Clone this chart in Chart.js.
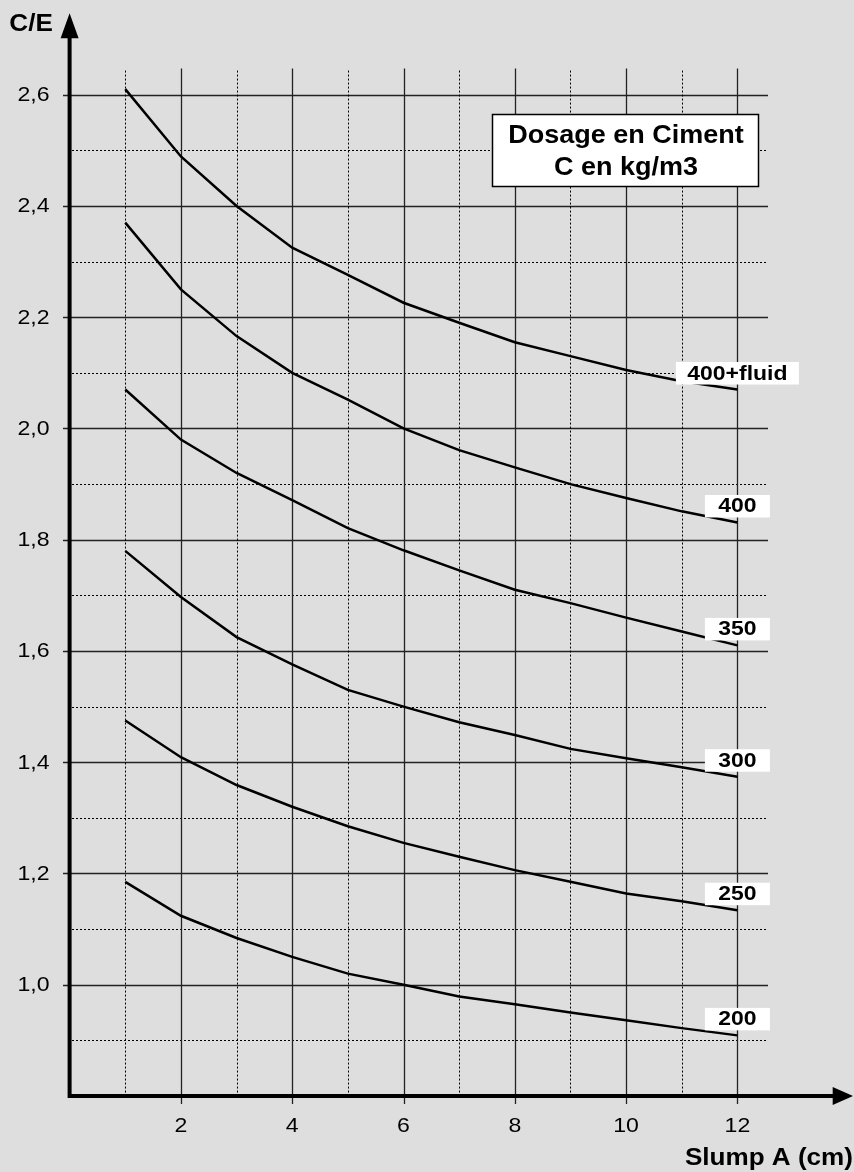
<!DOCTYPE html>
<html>
<head>
<meta charset="utf-8">
<script src="https://cdn.jsdelivr.net/npm/chart.js@4"></script>
<style>
  body { margin: 0; background: #dedede; }
  #wrap { width: 854px; height: 1172px; position: relative; }
</style>
</head>
<body>
<div id="wrap"><canvas id="myChart"></canvas></div>
<script>
const slump = [1, 2, 3, 4, 5, 6, 7, 8, 9, 10, 11, 12];
const ce200 = [1.185, 1.124, 1.084, 1.05, 1.02, 1.0, 0.979, 0.965, 0.95, 0.936, 0.922, 0.909];
const ce250 = [1.475, 1.409, 1.359, 1.32, 1.285, 1.255, 1.23, 1.206, 1.185, 1.164, 1.15, 1.134];
const ce300 = [1.78, 1.697, 1.625, 1.576, 1.53, 1.5, 1.472, 1.449, 1.424, 1.407, 1.391, 1.374];
const ce350 = [2.07, 1.98, 1.92, 1.871, 1.821, 1.781, 1.745, 1.71, 1.686, 1.66, 1.635, 1.61];
const ce400 = [2.37, 2.25, 2.166, 2.1, 2.052, 2.0, 1.961, 1.93, 1.9, 1.875, 1.851, 1.831];
const ce400fluid = [2.61, 2.489, 2.4, 2.325, 2.276, 2.226, 2.19, 2.155, 2.13, 2.105, 2.085, 2.07];
const seriesNames = ['200', '250', '300', '350', '400', '400+fluid'];

const xTicks = [2, 4, 6, 8, 10, 12];
const yTicks = [1.0, 1.2, 1.4, 1.6, 1.8, 2.0, 2.2, 2.4, 2.6];
const yTickLabels = ['1,0', '1,2', '1,4', '1,6', '1,8', '2,0', '2,2', '2,4', '2,6'];
const yMinor = [0.9, 1.1, 1.3, 1.5, 1.7, 1.9, 2.1, 2.3, 2.5];
const xMinor = [1, 3, 5, 7, 9, 11];

const FONT = '"Liberation Sans", Arial, sans-serif';

function stretchText(ctx, txt, x, y, align, sx) {
  ctx.save();
  ctx.translate(x, y);
  ctx.scale(sx, 1);
  ctx.textAlign = align;
  ctx.fillText(txt, 0, 0);
  ctx.restore();
}

const abaque = {
  id: 'abaque',
  beforeDraw(chart) {
    const ctx = chart.ctx;
    ctx.save();
    ctx.fillStyle = '#dedede';
    ctx.fillRect(0, 0, chart.width, chart.height);
    ctx.restore();
  },
  beforeDatasetsDraw(chart) {
    const ctx = chart.ctx, xs = chart.scales.x, ys = chart.scales.y;
    const xAxisY = ys.getPixelForValue(0.8);
    const gridRight = xs.getPixelForValue(12.55);
    ctx.save();
    // horizontal grid
    ctx.lineWidth = 1.3;
    ctx.strokeStyle = '#222';
    yTicks.forEach(v => {
      const y = Math.round(ys.getPixelForValue(v)) + 0.5;
      ctx.beginPath(); ctx.moveTo(63, y); ctx.lineTo(gridRight, y); ctx.stroke();
    });
    ctx.setLineDash([2, 2]);
    ctx.lineWidth = 1;
    ctx.strokeStyle = '#000';
    yMinor.forEach(v => {
      const y = Math.round(ys.getPixelForValue(v)) + 0.5;
      ctx.beginPath(); ctx.moveTo(72, y); ctx.lineTo(gridRight, y); ctx.stroke();
    });
    // vertical grid
    const top = ys.getPixelForValue(2.647);
    xMinor.forEach(v => {
      const x = Math.round(xs.getPixelForValue(v)) + 0.5;
      ctx.beginPath(); ctx.moveTo(x, top + 2); ctx.lineTo(x, xAxisY); ctx.stroke();
    });
    ctx.setLineDash([]);
    ctx.lineWidth = 1.3;
    ctx.strokeStyle = '#222';
    xTicks.forEach(v => {
      const x = Math.round(xs.getPixelForValue(v)) + 0.5;
      ctx.beginPath(); ctx.moveTo(x, top); ctx.lineTo(x, xAxisY + 8); ctx.stroke();
    });
    ctx.restore();
  },
  afterDatasetsDraw(chart) {
    const ctx = chart.ctx, xs = chart.scales.x, ys = chart.scales.y;
    const x0 = xs.getPixelForValue(0);
    const xAxisY = ys.getPixelForValue(0.8);
    ctx.save();
    // series labels in white boxes
    ctx.font = 'bold 20.5px ' + FONT;
    chart.data.datasets.forEach((ds, i) => {
      const last = ds.data[ds.data.length - 1];
      const cx = xs.getPixelForValue(last.x);
      const py = ys.getPixelForValue(last.y);
      const w = seriesNames[i].length > 4 ? 123 : 65;
      ctx.fillStyle = '#fff';
      ctx.fillRect(cx - w / 2, py - 27.5, w, 22.5);
      ctx.fillStyle = '#000';
      stretchText(ctx, seriesNames[i], cx, py - 10, 'center', 1.12);
    });

    // axes with arrows
    ctx.fillStyle = '#000';
    ctx.strokeStyle = '#000';
    ctx.lineWidth = 4;
    ctx.beginPath();
    ctx.moveTo(x0, 30); ctx.lineTo(x0, xAxisY); ctx.lineTo(834, xAxisY);
    ctx.stroke();
    ctx.beginPath();
    ctx.moveTo(x0, 13.3); ctx.lineTo(x0 + 9, 38.3); ctx.lineTo(x0 - 9, 38.3); ctx.closePath();
    ctx.fill();
    ctx.beginPath();
    ctx.moveTo(853, xAxisY); ctx.lineTo(832.7, xAxisY - 9); ctx.lineTo(832.7, xAxisY + 9); ctx.closePath();
    ctx.fill();

    // tick labels
    ctx.font = '21px ' + FONT;
    ctx.textBaseline = 'middle';
    yTicks.forEach((v, i) => {
      stretchText(ctx, yTickLabels[i], 49.5, ys.getPixelForValue(v) + 0.5, 'right', 1.1);
    });
    ctx.textBaseline = 'alphabetic';
    xTicks.forEach(v => {
      stretchText(ctx, String(v), xs.getPixelForValue(v), 1131.5, 'center', 1.1);
    });

    // axis titles
    ctx.font = 'bold 23.5px ' + FONT;
    stretchText(ctx, 'C/E', 9.3, 31, 'left', 1.11);
    stretchText(ctx, 'Slump A (cm)', 853, 1165, 'right', 1.11);

    // title box
    ctx.fillStyle = '#fff';
    ctx.fillRect(492, 114, 267, 73);
    ctx.lineWidth = 1.5;
    ctx.strokeRect(492.5, 114.5, 266, 72);
    ctx.fillStyle = '#000';
    ctx.font = 'bold 25px ' + FONT;
    stretchText(ctx, 'Dosage en Ciment', 626, 143.3, 'center', 1.08);
    stretchText(ctx, 'C en kg/m3', 626, 175, 'center', 1.08);
    ctx.restore();
  }
};

const allSeries = [ce200, ce250, ce300, ce350, ce400, ce400fluid];
const data = {
  datasets: allSeries.map((vals, i) => ({
    label: seriesNames[i],
    data: slump.map((s, j) => ({x: s, y: vals[j]})),
    borderColor: '#000',
    borderWidth: 2.5,
    pointRadius: 0,
    tension: 0,
    fill: false
  }))
};

const config = {
  type: 'line',
  data: data,
  options: {
    responsive: true,
    maintainAspectRatio: false,
    animation: false,
    layout: {
      padding: {left: 69.6, right: 5.3, top: 11.25, bottom: 76}
    },
    plugins: {
      legend: {display: false},
      tooltip: {enabled: false}
    },
    scales: {
      x: {type: 'linear', min: 0, max: 14, display: false},
      y: {type: 'linear', min: 0.8, max: 2.75, display: false}
    }
  },
  plugins: [abaque]
};

const myChart = new Chart(document.getElementById('myChart'), config);
</script>
</body>
</html>
